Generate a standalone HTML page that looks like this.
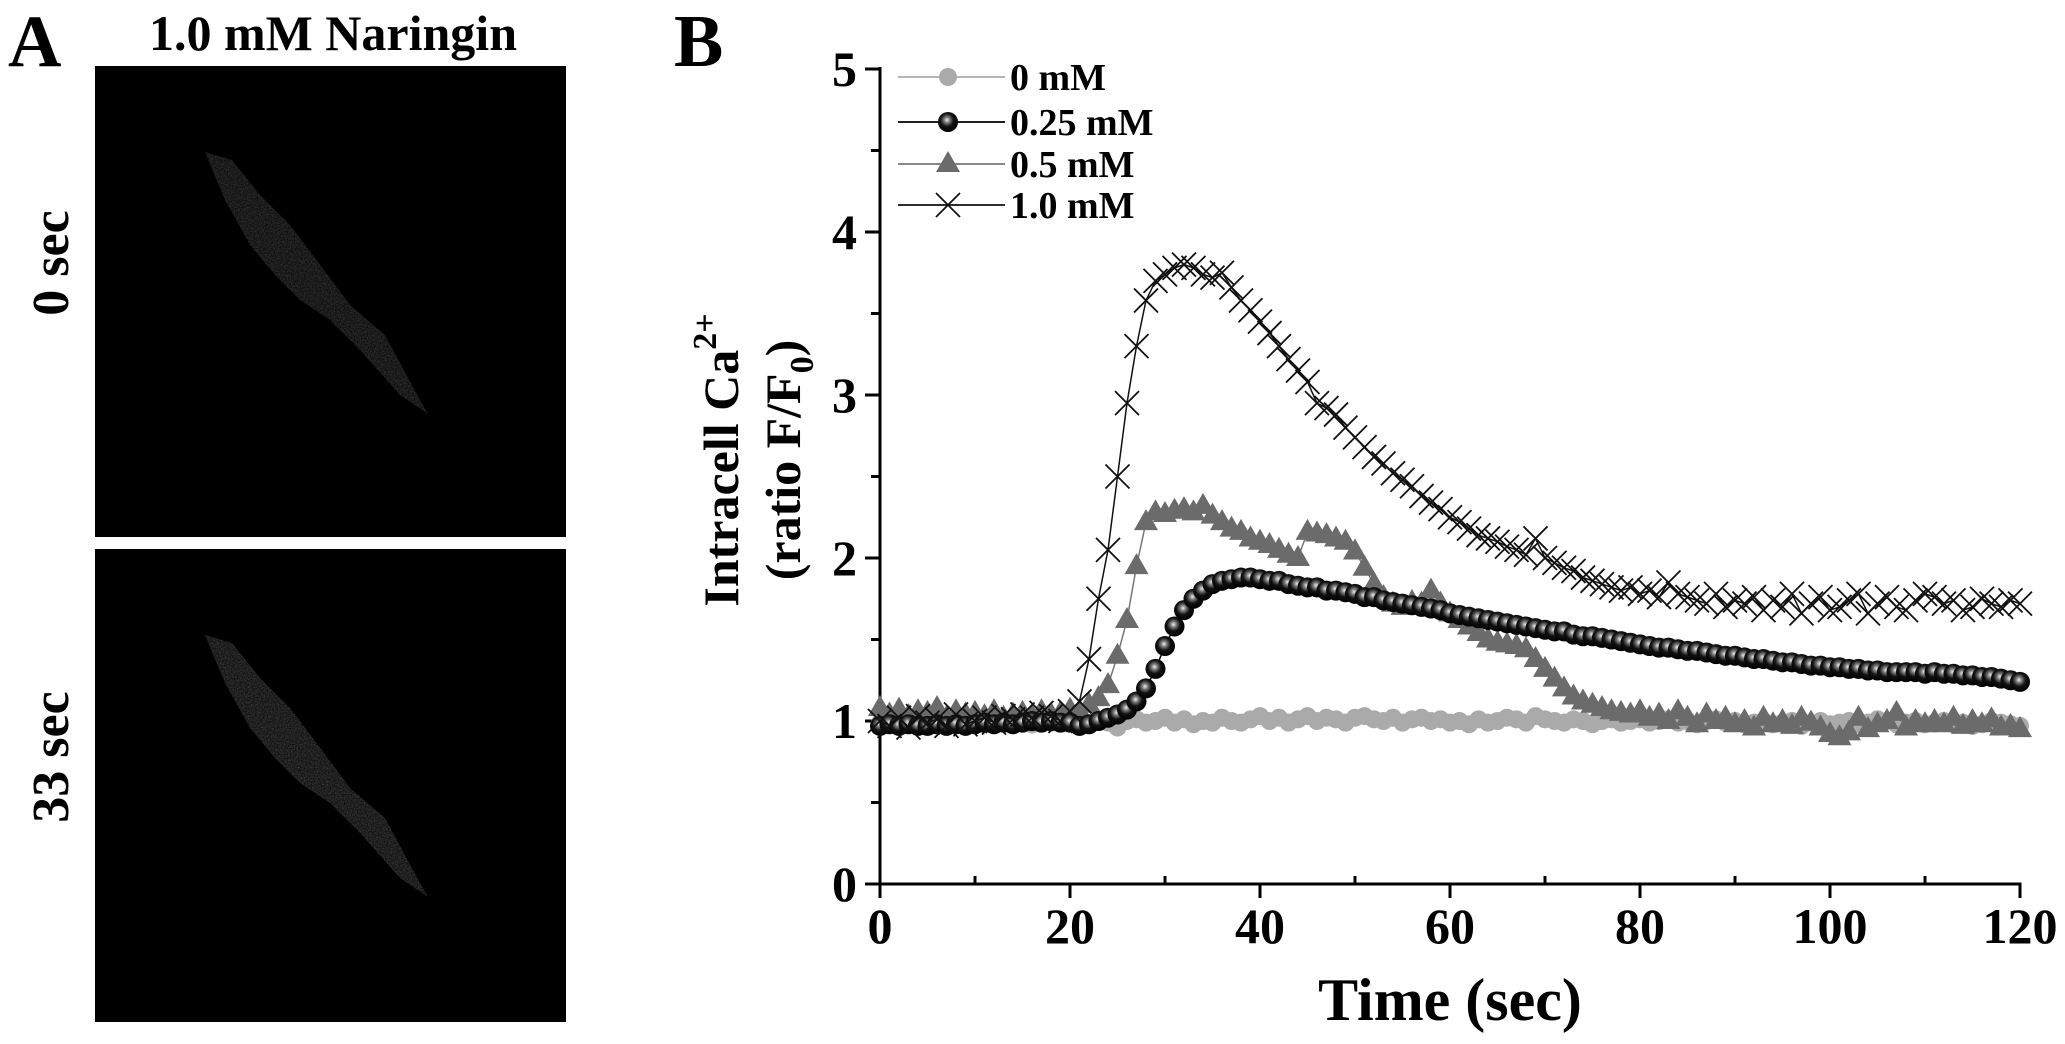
<!DOCTYPE html>
<html><head><meta charset="utf-8"><style>
html,body{margin:0;padding:0;background:#fff;}
svg{display:block;font-family:"Liberation Serif",serif;font-weight:bold;}
</style></head><body>
<svg id="fig" width="2065" height="1044" viewBox="0 0 2065 1044" xmlns="http://www.w3.org/2000/svg">
<defs>
<radialGradient id="ball" cx="0.45" cy="0.4" r="0.6">
<stop offset="0" stop-color="#eee"/><stop offset="0.25" stop-color="#777"/><stop offset="0.55" stop-color="#111"/><stop offset="1" stop-color="#000"/>
</radialGradient>
<filter id="speck"><feTurbulence type="fractalNoise" baseFrequency="0.7" numOctaves="2" result="n"/><feColorMatrix type="saturate" values="0"/><feComposite in2="SourceGraphic" operator="in"/></filter>
</defs>
<text x="8" y="66" font-size="74">A</text>
<text x="333" y="50" font-size="50" text-anchor="middle">1.0 mM Naringin</text>
<g>
<rect x="95" y="66" width="471" height="471" fill="#000"/>
<path d="M205,152 L232,160 L260,195 L290,225 L318,262 L350,305 L385,335 L420,400 L428,414 L400,395 L360,350 L330,320 L300,300 L275,275 L250,245 L225,200 Z" fill="#888" opacity="0.3" filter="url(#speck)"/>
</g>
<g>
<rect x="95" y="549" width="471" height="473" fill="#000"/>
<path d="M205,635 L232,643 L260,678 L290,708 L318,745 L350,788 L385,818 L420,883 L428,897 L400,878 L360,833 L330,803 L300,783 L275,758 L250,728 L225,683 Z" fill="#999" opacity="0.35" filter="url(#speck)"/>
</g>
<text transform="translate(68,263) rotate(-90)" font-size="52" text-anchor="middle">0 sec</text>
<text transform="translate(68,757) rotate(-90)" font-size="52" text-anchor="middle">33 sec</text>
<text x="674" y="66" font-size="74">B</text>
<g id="axes"></g>
<g id="series"></g>
<g id="legend"></g>
<text transform="translate(738,460) rotate(-90)" font-size="50" text-anchor="middle">Intracell Ca<tspan dy="-22" font-size="34">2+</tspan></text>
<text transform="translate(800,460) rotate(-90)" font-size="50" text-anchor="middle">(ratio F/F<tspan dy="13" font-size="34">0</tspan><tspan dy="-13">)</tspan></text>
<text x="1450" y="1020" font-size="60" text-anchor="middle">Time (sec)</text>
</svg>
<script>
const xTicks=[0,20,40,60,80,100,120];
const yTicks=[0,1,2,3,4,5];
const seriesNames=["0 mM","0.25 mM","0.5 mM","1.0 mM"];
const s0=[0.99,1.00,0.98,1.01,0.99,0.97,1.00,0.98,1.00,1.01,0.99,0.98,1.00,0.99,1.01,0.99,0.98,1.00,0.99,1.00,0.99,1.00,0.98,1.01,0.99,0.96,1.00,1.01,0.99,1.00,1.02,0.99,1.01,0.98,1.00,0.99,1.02,1.00,0.99,1.01,1.03,1.00,1.02,0.99,1.01,1.03,1.00,1.02,1.01,0.99,1.02,1.03,1.01,1.00,1.02,0.99,1.01,1.02,1.00,1.01,0.99,1.00,0.98,1.01,0.99,1.00,1.02,1.01,0.99,1.03,1.01,1.00,0.99,1.01,1.00,0.98,1.00,1.01,0.99,1.00,1.01,0.99,1.00,1.01,0.99,1.00,0.98,1.00,1.01,0.99,1.00,0.98,0.99,1.00,0.98,0.99,1.00,0.97,0.99,1.00,0.98,0.99,1.00,0.98,0.99,1.01,1.00,0.98,0.99,1.00,0.98,0.99,1.00,0.98,0.99,0.97,0.98,1.00,0.99,0.98,0.97];
const s025=[0.97,0.98,0.97,0.98,0.97,0.97,0.98,0.97,0.98,0.97,0.98,0.99,0.98,0.99,0.98,0.99,1.00,0.99,1.00,0.99,0.99,0.97,0.98,1.00,1.02,1.04,1.07,1.12,1.20,1.32,1.46,1.58,1.68,1.75,1.80,1.84,1.86,1.87,1.88,1.88,1.87,1.86,1.86,1.84,1.83,1.82,1.82,1.80,1.80,1.79,1.78,1.76,1.76,1.74,1.73,1.72,1.71,1.70,1.69,1.68,1.66,1.65,1.64,1.63,1.62,1.61,1.60,1.59,1.58,1.57,1.56,1.55,1.55,1.53,1.52,1.52,1.51,1.50,1.49,1.48,1.47,1.46,1.45,1.45,1.44,1.43,1.43,1.42,1.41,1.40,1.40,1.39,1.38,1.38,1.37,1.36,1.36,1.35,1.34,1.34,1.33,1.33,1.32,1.32,1.31,1.31,1.30,1.30,1.30,1.30,1.29,1.30,1.29,1.29,1.28,1.28,1.27,1.27,1.26,1.25,1.24];
const s05=[1.08,1.04,1.07,1.03,1.06,1.05,1.08,1.02,1.06,1.04,1.05,1.03,1.06,1.02,1.04,1.05,1.03,1.06,1.04,1.05,1.07,1.06,1.10,1.14,1.22,1.40,1.62,1.95,2.22,2.28,2.27,2.29,2.30,2.28,2.32,2.26,2.22,2.18,2.16,2.12,2.10,2.08,2.05,2.02,2.00,2.16,2.15,2.14,2.12,2.10,2.04,1.94,1.84,1.76,1.72,1.70,1.73,1.72,1.80,1.72,1.66,1.62,1.58,1.54,1.50,1.48,1.47,1.46,1.44,1.38,1.32,1.26,1.20,1.15,1.12,1.10,1.08,1.06,1.05,1.04,1.06,1.02,1.04,1.00,1.06,1.02,0.98,1.04,1.00,1.02,0.98,1.00,0.96,1.02,0.98,1.00,0.97,1.02,0.99,0.96,0.92,0.90,0.93,1.02,0.95,0.98,1.00,1.05,0.96,1.00,0.98,1.00,0.98,1.02,0.97,1.00,0.98,1.01,0.96,0.97,0.95];
const s10=[1.00,0.97,1.02,0.96,1.03,0.99,1.01,0.97,1.04,0.98,1.00,1.02,0.99,1.03,1.01,1.04,1.02,1.05,1.03,1.00,1.06,1.12,1.38,1.75,2.05,2.50,2.95,3.30,3.58,3.70,3.74,3.78,3.80,3.78,3.74,3.72,3.75,3.66,3.58,3.52,3.45,3.38,3.30,3.22,3.15,3.08,2.95,2.92,2.88,2.80,2.74,2.68,2.62,2.58,2.52,2.48,2.44,2.38,2.34,2.30,2.25,2.22,2.18,2.14,2.12,2.10,2.07,2.05,2.02,2.12,2.00,1.97,1.94,1.92,1.88,1.86,1.84,1.82,1.80,1.82,1.78,1.80,1.76,1.85,1.78,1.76,1.74,1.72,1.78,1.70,1.74,1.72,1.76,1.68,1.74,1.70,1.78,1.66,1.72,1.76,1.68,1.70,1.74,1.78,1.66,1.72,1.76,1.70,1.68,1.74,1.78,1.76,1.72,1.74,1.68,1.70,1.75,1.72,1.70,1.74,1.72];

const NS="http://www.w3.org/2000/svg";
const X0=880,XPX=9.5,Y0=884,YPX=163;
function sx(t){return X0+t*XPX;}
function sy(v){return Y0-v*YPX;}
function mk(tag,attrs,parent){const e=document.createElementNS(NS,tag);for(const k in attrs)e.setAttribute(k,attrs[k]);parent.appendChild(e);return e;}

const axes=document.getElementById('axes');
let e=mk('line',{x1:sx(0),y1:sy(5)-2,x2:sx(0),y2:sy(0)+1.5,stroke:'#000','stroke-width':3},axes);


e=mk('line',{x1:sx(0)-1.5,y1:sy(0),x2:sx(120)+1.5,y2:sy(0),stroke:'#000','stroke-width':3},axes);


for(let t=0;t<=120;t+=10){const maj=t%20===0;
 e=mk('line',{x1:sx(t),y1:sy(0),x2:sx(t),y2:sy(0)+(maj?14:-8),stroke:'#000','stroke-width':3},axes);
 
 }
xTicks.forEach(t=>{e=mk('text',{x:sx(t),y:943,'font-size':50,'text-anchor':'middle'},axes);e.textContent=t;
 
 });
for(let v=0;v<=5;v+=0.5){const maj=v%1===0;
 e=mk('line',{x1:sx(0),y1:sy(v),x2:sx(0)-(maj?15:9),y2:sy(v),stroke:'#000','stroke-width':3},axes);
 
 }
yTicks.forEach(v=>{e=mk('text',{x:857,y:sy(v)+17,'font-size':50,'text-anchor':'end'},axes);e.textContent=v;
 
 });

function marker(type,x,y,g){
 if(type==='grey')return mk('circle',{cx:x,cy:y,r:9,fill:'#aaa'},g);
 if(type==='ball')return mk('circle',{cx:x,cy:y,r:10,fill:'url(#ball)'},g);
 if(type==='tri')return mk('polygon',{points:`${x},${y-13} ${x+12},${y+8} ${x-12},${y+8}`,fill:'#6b6b6b'},g);
 return mk('path',{d:`M${x-12},${y-12}L${x+12},${y+12}M${x+12},${y-12}L${x-12},${y+12}`,stroke:'#111','stroke-width':1.8,fill:'none'},g);
}
const styles=[{d:s0,m:'grey',line:'#aaa',name:'series-0mM'},{d:s05,m:'tri',line:'#777',name:'series-0.5mM'},{d:s025,m:'ball',line:'#000',name:'series-0.25mM'},{d:s10,m:'x',line:'#111',name:'series-1.0mM'}];
const sg=document.getElementById('series');
styles.forEach(s=>{
 const g=mk('g',{},sg);
 
 
 const pts=s.d.map((v,i)=>sx(i)+','+sy(v)).join(' ');
 mk('polyline',{points:pts,fill:'none',stroke:s.line,'stroke-width':1.5},g);
 s.d.forEach((v,i)=>{const m=marker(s.m,sx(i),sy(v),g);
  
  });
});
const lg=document.getElementById('legend');
const legTypes=['grey','ball','tri','x'],legLine=['#aaa','#000','#777','#111'],legY=[77,122,164,205];
seriesNames.forEach((n,i)=>{
 const g=mk('g',{},lg);
 
 
 mk('line',{x1:898,y1:legY[i],x2:1005,y2:legY[i],stroke:legLine[i],'stroke-width':1.8},g);
 marker(legTypes[i],948,legY[i],g);
 const t=mk('text',{x:1010,y:legY[i]+13,'font-size':38},g);t.textContent=n;
});
</script>
</body></html>
